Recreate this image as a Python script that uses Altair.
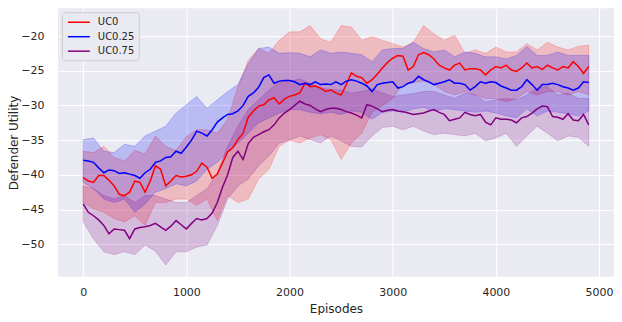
import altair as alt
import pandas as pd

SERIES = ["UC0", "UC0.25", "UC0.75"]
COLORS = ["red", "blue", "purple"]

EP_LINE = list(range(0, 4901, 50))
EP_BAND = list(range(0, 4901, 100))

RED_MEAN = [
    -40.4, -40.9, -41.1, -40.1, -40.1, -40.8, -41.6, -42.8, -43.0, -42.5,
    -40.9, -41.1, -42.5, -40.9, -38.7, -39.2, -41.6, -40.9, -40.1, -40.3,
    -40.2, -40.0, -39.5, -38.3, -38.9, -40.5, -39.9, -38.3, -36.7, -36.1,
    -34.9, -34.0, -31.7, -30.8, -30.1, -29.9, -29.2, -28.9, -29.8, -29.1,
    -28.7, -28.5, -28.2, -26.8, -27.3, -27.2, -27.5, -28.0, -27.8, -28.2,
    -28.5, -27.0, -25.3, -25.8, -26.0, -26.8, -26.3, -25.5, -24.6, -23.8,
    -23.2, -22.8, -22.9, -24.9, -24.4, -22.7, -22.4, -22.7, -23.3, -24.2,
    -24.6, -24.9, -24.2, -23.9, -24.9, -24.7, -24.7, -24.9, -25.6, -24.9,
    -24.4, -24.6, -24.2, -24.9, -25.1, -24.6, -23.9, -24.6, -24.4, -24.8,
    -24.2, -24.6, -24.9, -24.4, -24.6, -23.7, -24.4, -25.4, -24.4,
]
BLUE_MEAN = [
    -37.9, -38.0, -38.2, -39.0, -39.7, -39.3, -39.4, -39.8, -39.7, -39.9,
    -40.1, -40.5, -39.7, -39.2, -38.2, -38.0, -37.5, -37.4, -36.6, -36.9,
    -36.0, -35.0, -33.7, -34.0, -34.4, -33.5, -32.4, -31.8, -31.3, -31.2,
    -30.8, -30.0, -28.7, -28.2, -27.4, -26.0, -25.6, -26.8, -26.5, -26.4,
    -26.4, -26.6, -27.0, -26.8, -27.0, -26.6, -27.0, -26.9, -27.0, -26.6,
    -27.0, -26.5, -26.3, -26.5, -26.8, -27.2, -28.0, -27.0, -26.8, -26.7,
    -26.6, -27.5, -27.3, -26.8, -26.6, -25.8, -26.3, -26.6, -27.0, -26.8,
    -26.6, -26.3, -26.8, -26.8, -27.0, -27.8, -27.3, -26.6, -26.8, -26.6,
    -26.7, -27.2, -27.5, -27.8, -27.8, -27.3, -26.3, -27.0, -27.8, -27.0,
    -27.0, -26.8, -27.0, -27.3, -27.5, -27.8, -27.5, -26.6, -26.7,
]
PURPLE_MEAN = [
    -44.2, -45.4, -45.9, -46.5, -47.3, -48.5, -47.8, -47.9, -48.0, -49.2,
    -47.8, -47.6, -47.5, -47.3, -47.0, -47.5, -48.0, -47.4, -46.6, -47.2,
    -47.8, -47.0, -46.3, -46.5, -46.3, -45.5, -44.0, -41.8, -40.0, -37.5,
    -36.6, -37.8, -35.5, -34.6, -34.2, -33.8, -33.5, -32.8, -31.8, -31.1,
    -30.6, -30.0, -29.4, -29.8, -30.0, -30.5, -30.9, -30.6, -30.4, -30.4,
    -30.6, -30.9, -31.1, -31.4, -31.8, -29.9, -30.1, -30.5, -30.9, -30.7,
    -30.6, -30.8, -30.9, -31.1, -31.3, -31.2, -31.1, -30.8, -30.6, -31.0,
    -31.3, -32.2, -32.0, -31.8, -31.0, -31.3, -31.5, -31.3, -32.4, -32.8,
    -31.8, -32.0, -32.0, -32.1, -32.5, -31.8, -31.6, -31.1, -30.5, -30.1,
    -30.2, -31.6, -31.7, -32.0, -31.2, -32.1, -32.2, -31.3, -32.8,
]

RED_HI = [
    -36.6, -36.8, -35.9, -37.5, -38.0, -36.5, -37.0, -34.4, -35.9, -36.5,
    -34.5, -33.5, -33.5, -34.0, -32.0, -27.3, -23.5, -21.8, -22.5, -20.6,
    -19.4, -19.4, -18.5, -20.4, -20.9, -18.5, -18.7, -20.6, -20.1, -20.6,
    -21.1, -21.6, -20.9, -18.5, -19.7, -20.6, -19.9, -22.5, -22.0, -22.5,
    -21.6, -22.3, -22.3, -21.1, -22.0, -20.9, -21.6, -22.0, -21.5, -21.3,
]
RED_LO = [
    -44.0, -44.9, -45.4, -46.3, -46.8, -45.9, -47.3, -44.0, -44.0, -43.5,
    -43.5, -44.4, -43.5, -46.6, -43.0, -44.0, -43.5, -40.6, -39.2, -35.9,
    -35.0, -35.4, -34.7, -34.2, -34.9, -37.8, -35.4, -34.0, -31.0, -30.0,
    -29.0, -27.0, -26.7, -26.5, -27.0, -28.0, -28.5, -28.0, -28.5, -29.0,
    -29.0, -29.5, -29.0, -28.0, -28.5, -28.0, -28.0, -28.5, -28.0, -28.5,
]
BLUE_HI = [
    -34.9, -34.7, -36.6, -36.8, -35.6, -35.9, -34.4, -33.7, -33.0, -31.1,
    -29.9, -28.7, -30.4, -29.2, -28.0, -27.0, -24.0, -21.8, -21.6, -22.5,
    -22.4, -22.5, -23.0, -22.0, -22.5, -22.3, -22.5, -22.7, -23.7, -22.0,
    -21.8, -21.8, -20.9, -21.8, -22.3, -22.0, -23.0, -22.3, -22.5, -23.0,
    -23.0, -23.3, -22.8, -21.5, -22.8, -22.8, -22.3, -22.8, -22.8, -22.8,
]
BLUE_LO = [
    -41.1, -42.0, -43.5, -44.0, -43.5, -45.4, -44.2, -42.5, -42.0, -41.3,
    -41.6, -40.9, -39.2, -38.2, -36.8, -35.4, -34.0, -32.5, -31.8, -31.1,
    -30.6, -30.6, -31.0, -31.2, -31.0, -31.3, -30.8, -31.0, -32.0, -31.0,
    -30.8, -31.0, -30.5, -30.3, -30.8, -30.5, -30.6, -30.8, -31.0, -30.8,
    -31.1, -31.5, -31.8, -30.5, -31.5, -30.8, -31.0, -31.2, -31.5, -30.8,
]
PURPLE_HI = [
    -41.6, -42.0, -43.0, -43.5, -43.0, -44.0, -43.0, -43.0, -43.5, -44.0,
    -44.0, -43.0, -42.0, -39.7, -35.9, -33.0, -30.6, -29.2, -27.8, -26.6,
    -26.5, -26.2, -26.8, -27.5, -27.7, -27.8, -28.2, -28.0, -27.6, -28.2,
    -28.7, -28.5, -28.3, -28.0, -28.0, -28.5, -29.0, -28.2, -28.5, -29.5,
    -29.2, -29.0, -29.2, -28.5, -27.5, -27.3, -28.5, -28.2, -29.0, -29.0,
]
PURPLE_LO = [
    -46.8, -49.2, -51.1, -51.5, -51.1, -51.5, -50.1, -51.0, -53.0, -51.1,
    -51.1, -50.4, -50.1, -47.3, -43.5, -41.6, -40.6, -38.7, -37.3, -35.4,
    -35.0, -34.4, -34.9, -35.4, -34.4, -35.1, -35.9, -36.0, -34.4, -33.2,
    -33.0, -33.5, -33.0, -33.7, -34.2, -34.0, -34.2, -34.4, -34.0, -35.1,
    -34.7, -34.0, -35.9, -34.4, -33.0, -34.0, -35.1, -34.4, -34.6, -35.9,
]

X_TICKS = [0, 1000, 2000, 3000, 4000, 5000]
Y_TICKS = [-50, -45, -40, -35, -30, -25, -20]

line_rows = []
for name, vals in zip(SERIES, [RED_MEAN, BLUE_MEAN, PURPLE_MEAN]):
    for e, v in zip(EP_LINE, vals):
        line_rows.append({"ep": e, "value": v, "series": name})
lines_df = pd.DataFrame(line_rows)

band_rows = []
for name, lo, hi in zip(SERIES, [RED_LO, BLUE_LO, PURPLE_LO], [RED_HI, BLUE_HI, PURPLE_HI]):
    for e, a, b in zip(EP_BAND, lo, hi):
        band_rows.append({"ep": e, "lo": a, "hi": b, "series": name})
bands_df = pd.DataFrame(band_rows)

FONT = "DejaVu Sans"
TXT = "#262626"

xscale = alt.Scale(domain=[-245, 5145], nice=False, zero=False)
yscale = alt.Scale(domain=[-54.7, -16.0], nice=False, zero=False)
cscale = alt.Scale(domain=SERIES, range=COLORS)

x_enc = alt.X("ep:Q", scale=xscale,
              axis=alt.Axis(values=X_TICKS, format="d", title="Episodes"))

bands = alt.Chart(bands_df).mark_area(
    fillOpacity=0.2, strokeOpacity=0.2, strokeWidth=1
).encode(
    x=x_enc,
    y=alt.Y("lo:Q", scale=yscale,
            axis=alt.Axis(values=Y_TICKS, format="d", title="Defender Utility")),
    y2="hi:Q",
    color=alt.Color("series:N", scale=cscale, legend=None),
    stroke=alt.Stroke("series:N", scale=cscale, legend=None),
)

lines = alt.Chart(lines_df).mark_line(strokeWidth=1.5).encode(
    x=x_enc,
    y=alt.Y("value:Q", scale=yscale),
    color=alt.Color(
        "series:N", scale=cscale,
        legend=alt.Legend(
            title=None, orient="none", legendX=4, legendY=4,
            symbolType="M-2.2,0H2.2", symbolSize=100, symbolStrokeWidth=1.5,
            symbolOffset=7, labelOffset=13,
            labelFontSize=10, labelFont=FONT, labelColor=TXT,
            fillColor="#EAEAF2", strokeColor="#CCCCCC", cornerRadius=3,
            padding=4, rowPadding=3.5,
        ),
    ),
)

chart = alt.layer(bands, lines).resolve_legend(
    color="independent", stroke="independent"
).properties(
    width=557, height=269,
    autosize=alt.AutoSizeParams(type="none"),
    padding={"left": 50, "top": 0, "right": 0, "bottom": 38},
).configure_view(
    fill="#EAEAF2", stroke=None
).configure_axis(
    domain=False, ticks=False, tickSize=0,
    grid=True, gridColor="white", gridWidth=1, gridOpacity=1,
    labelFont=FONT, labelFontSize=11, labelColor=TXT,
    titleFont=FONT, titleFontSize=12, titleColor=TXT, titleFontWeight="normal",
).configure_axisY(
    labelPadding=14, titlePadding=0,
).configure_axisX(
    labelPadding=10, titlePadding=6,
)

chart.save("out.html", embed_options={"renderer": "svg", "actions": False})
